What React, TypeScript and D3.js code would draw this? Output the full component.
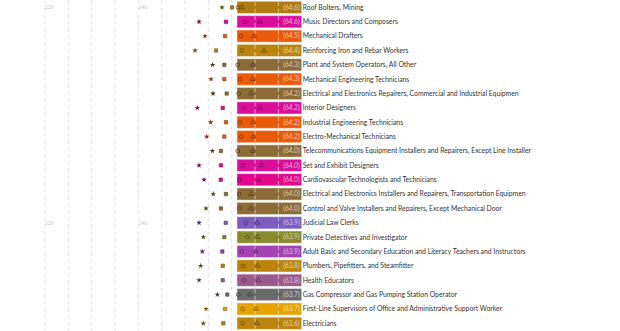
import React from "react";
import * as d3 from "d3";

const occupations = [
  "Roof Bolters, Mining",
  "Music Directors and Composers",
  "Mechanical Drafters",
  "Reinforcing Iron and Rebar Workers",
  "Plant and System Operators, All Other",
  "Mechanical Engineering Technicians",
  "Electrical and Electronics Repairers, Commercial and Industrial Equipmen",
  "Interior Designers",
  "Industrial Engineering Technicians",
  "Electro-Mechanical Technicians",
  "Telecommunications Equipment Installers and Repairers, Except Line Installer",
  "Set and Exhibit Designers",
  "Cardiovascular Technologists and Technicians",
  "Electrical and Electronics Installers and Repairers, Transportation Equipmen",
  "Control and Valve Installers and Repairers, Except Mechanical Door",
  "Judicial Law Clerks",
  "Private Detectives and Investigator",
  "Adult Basic and Secondary Education and Literacy Teachers and Instructors",
  "Plumbers, Pipefitters, and Steamfitter",
  "Health Educators",
  "Gas Compressor and Gas Pumping Station Operator",
  "First-Line Supervisors of Office and Administrative Support Worker",
  "Electricians",
];

const groups = [
  "Extraction", "Arts", "Engineering", "Construction", "Production",
  "Engineering", "Installation", "Arts", "Engineering", "Engineering",
  "Installation", "Arts", "Healthcare", "Installation", "Installation",
  "Legal", "Protective", "Education", "Construction", "Community",
  "Transportation", "Office", "Construction",
];

const scores = [
  64.6, 64.6, 64.5, 64.4, 64.3, 64.3, 64.2, 64.2, 64.2, 64.2, 64.0, 64.0,
  64.0, 64.0, 64.0, 63.9, 63.9, 63.9, 63.8, 63.8, 63.7, 63.7, 63.6,
];

const starVals = [
  68.3, 88.0, 82.9, 91.4, 76.3, 77.7, 76.0, 89.5, 78.0, 81.4, 76.6, 88.0,
  83.7, 75.8, 82.0, 88.0, 84.3, 85.2, 86.6, 88.0, 72.3, 82.0, 84.3,
];
const squareVals = [
  59.7, 64.9, 65.7, 73.4, 66.3, 66.3, 64.3, 67.7, 64.9, 66.3, 69.2, 69.2,
  69.4, 64.9, 69.2, 65.1, 66.3, 68.0, 67.7, 67.7, 63.8, 65.7, 67.2,
];
const circleVals = [
  54.6, 48.6, 52.0, 51.2, 54.8, 52.9, 54.0, 49.2, 52.9, 52.0, 54.8, 50.0,
  53.5, 53.5, 53.5, 48.0, 46.6, 51.4, 50.0, 49.5, 54.3, 50.6, 50.6,
];
const triangleVals = [
  51.2, 35.8, 40.9, 32.3, 42.0, 42.0, 43.5, 35.7, 41.5, 41.5, 42.0, 34.3,
  37.2, 43.5, 43.5, 38.1, 37.7, 39.2, 37.7, 37.2, 44.3, 39.2, 38.1,
];

const tickLabels = [220, 140];
const tickLabelRows = [0, 15];

const groupColors: Record<string, string> = {
  Extraction: "#b07b12",
  Arts: "#d90f9c",
  Engineering: "#ea5a0b",
  Construction: "#ba840f",
  Production: "#8c6a3a",
  Installation: "#8d6b36",
  Healthcare: "#e3078c",
  Legal: "#7c5cbd",
  Protective: "#8a8a2e",
  Education: "#a244b2",
  Community: "#9b5a8c",
  Transportation: "#6b6b6b",
  Office: "#e5a300",
};

const width = 620;
const height = 331;
const barSpan = 55.5;
const font = "Lato, 'Open Sans', sans-serif";

export default function App() {
  const x = d3.scaleLinear().domain([0, 220]).range([301.7, 45]);
  const y = d3
    .scaleBand<string>()
    .domain(occupations)
    .range([0.2, 0.2 + occupations.length * 14.36])
    .paddingInner(0.15)
    .paddingOuter(0.075);
  const bw = y.bandwidth();

  const grid = d3.range(20, 221, 20);
  const star = d3.symbol(d3.symbolStar, 10)()!;
  const square = d3.symbol(d3.symbolSquare, 11)()!;
  const circle = d3.symbol(d3.symbolCircle, 11)()!;
  const triangle = d3.symbol(d3.symbolTriangle, 10)()!;

  const rows = occupations.map((name, i) => {
    const top = y(name)!;
    const cy = top + bw / 2;
    const color = groupColors[groups[i]];
    const dark = d3.color(color)!.darker(1.6).formatHex();
    const x0 = x(barSpan);
    const x1 = x(0);
    return (
      <g key={name}>
        <rect
          x={x0}
          y={top}
          width={x1 - x0}
          height={bw}
          fill={color}
          stroke="#fff"
          strokeOpacity={0.45}
        />
        {grid
          .filter((t) => t < barSpan)
          .map((t) => (
            <line
              key={t}
              x1={x(t)}
              x2={x(t)}
              y1={top + 0.5}
              y2={top + bw - 0.5}
              stroke="#fff"
              strokeOpacity={0.55}
              strokeDasharray="4,3"
            />
          ))}
        <path d={star} transform={`translate(${x(starVals[i])},${cy})`} fill={dark} />
        <path
          d={square}
          transform={`translate(${x(squareVals[i])},${cy})`}
          fill={color}
          stroke={dark}
          strokeWidth={0.6}
        />
        <path
          d={circle}
          transform={`translate(${x(circleVals[i])},${cy})`}
          fill="none"
          stroke={dark}
          strokeWidth={0.8}
        />
        <path
          d={triangle}
          transform={`translate(${x(triangleVals[i])},${cy})`}
          fill="none"
          stroke={dark}
          strokeWidth={0.8}
        />
        <text
          x={x1 - 2}
          y={cy}
          dy="0.35em"
          textAnchor="end"
          fontSize={6.6}
          fill="#fff"
          fillOpacity={0.65}
        >
          ({scores[i].toFixed(1)})
        </text>
        <text x={x1 + 1} y={cy} dy="0.35em" fontSize={6.8} fill="#333">
          {name}
        </text>
      </g>
    );
  });

  return (
    <svg
      width={width}
      height={height}
      style={{ position: "absolute", left: 0, top: 0, fontFamily: font }}
    >
      <rect width={width} height={height} fill="#fff" />
      {grid.map((t) => (
        <line
          key={t}
          x1={x(t)}
          x2={x(t)}
          y1={0}
          y2={height}
          stroke="#e4e4e4"
          strokeDasharray="4,3"
        />
      ))}
      {tickLabelRows.map((r) =>
        tickLabels.map((t) => (
          <text
            key={`${r}-${t}`}
            x={x(t)}
            y={y(occupations[r])! + bw / 2 + 2}
            fontSize={5}
            fill="#c8c8c8"
          >
            {t}
          </text>
        ))
      )}
      {rows}
    </svg>
  );
}
